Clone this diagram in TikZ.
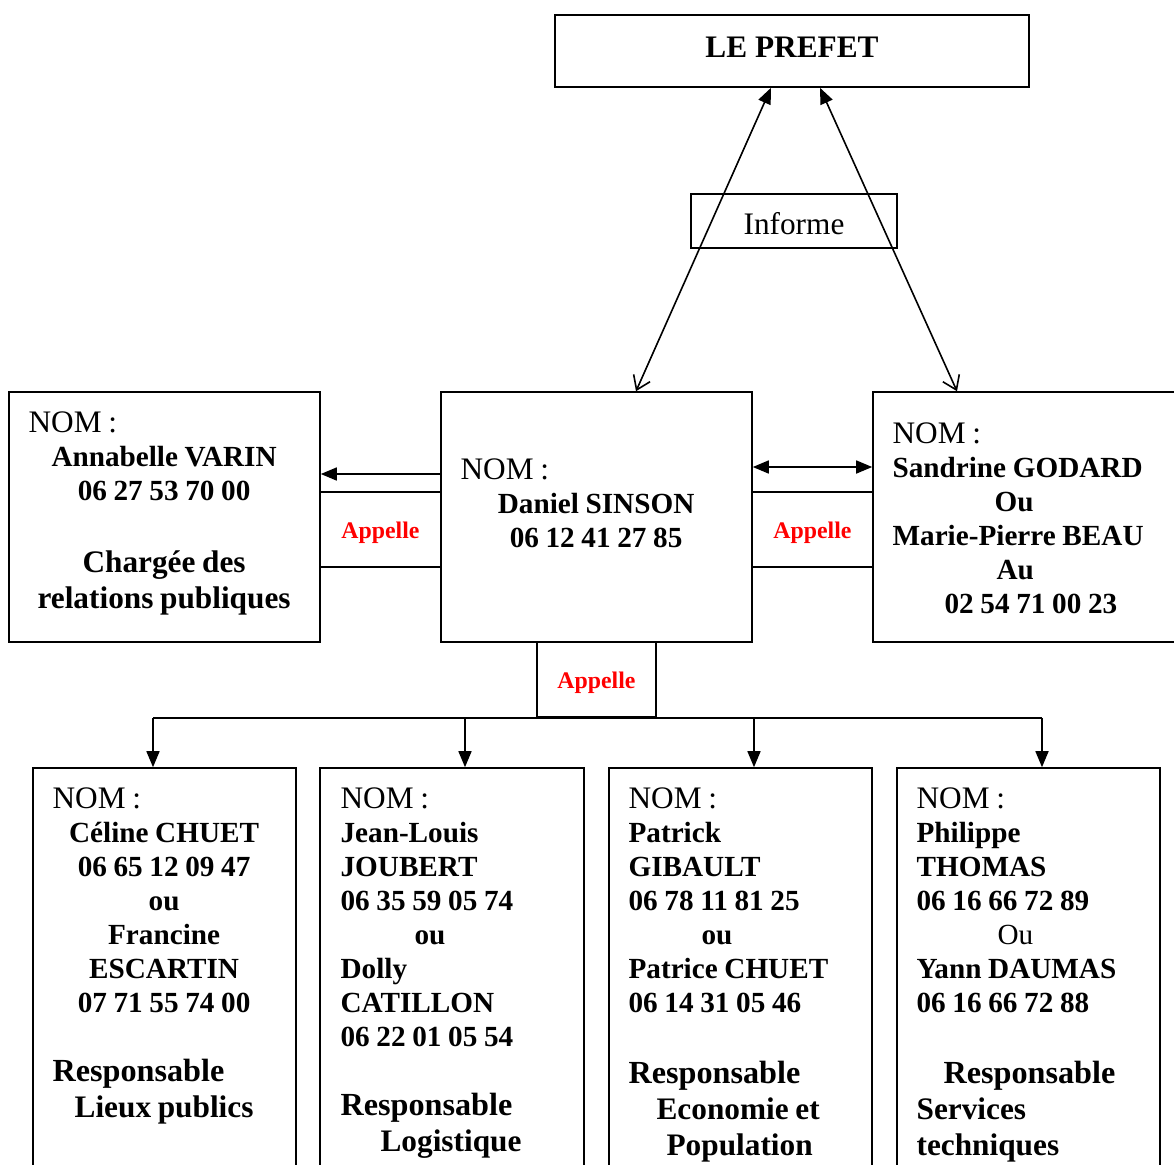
\documentclass[tikz,border=0pt]{standalone}
\usepackage{fontspec}
\setmainfont{Liberation Serif}
\usetikzlibrary{arrows.meta, positioning}
\setlength\parindent{0pt}

\newcommand\fdouze{\fontsize{11.9pt}{14pt}\selectfont}
\newcommand\fquatorze{\fontsize{14.6pt}{17pt}\selectfont}
\newcommand\fquinze{\fontsize{15.65pt}{18pt}\selectfont}
\newcommand\fseize{\fontsize{16.1pt}{18.3pt}\selectfont}

\tikzset{
  boite/.style={draw, line width=0.8pt, inner sep=0pt},
  appel/.style={boite, minimum width=60.5pt, minimum height=37.5pt, text=red, font=\fdouze\bfseries,
    text height=12.1pt, text depth=2.7pt},
  texte/.style={anchor=north west, inner sep=0pt, align=left, text width=#1},
  trait/.style={line width=0.8pt},
  fleche/.style={trait, -{Triangle[length=8pt,width=6.5pt]}},
  fleches/.style={trait, {Triangle[length=8pt,width=6.5pt]}-{Triangle[length=8pt,width=6.5pt]}},
  informe/.style={trait, {Straight Barb[length=6.5pt,width=9pt]}-{Triangle[length=8pt,width=6.5pt]}}
}

\begin{document}
\begin{tikzpicture}[x=0.5pt, y=-0.5pt]
\useasboundingbox (0,0) rectangle (1174,1164);
\clip (0,0) rectangle (1174,1164);

% Le prefet
\node[boite, minimum width=237pt, minimum height=36pt, font=\fquinze\bfseries,
  text height=10.4pt, text depth=4pt] (prefet) at (792,51) {LE PREFET};
\node[boite, minimum width=103pt, minimum height=27pt, font=\fquinze,
  text height=13.7pt, text depth=0pt] (info) at (794,221) {Informe};

% Premier niveau
\node[boite, minimum width=155.5pt, minimum height=125pt] (varin) at (164.5,517) {};
\node[boite, minimum width=155.5pt, minimum height=125pt] (sinson) at (596.5,517) {};
\node[boite, minimum width=153.5pt, minimum height=125pt] (godard) at (1026.5,517) {};
\node[appel] (appG) at (380.5,529.5) {Appelle};
\node[appel] (appD) at (812.5,529.5) {Appelle};
\node[appel, minimum width=59.5pt] (appB) at (596.5,679.5) {Appelle};

\node[texte=135.5pt] (varinT) at ([shift={(10pt,-10pt)}]varin.north west) {%
  {\fquinze NOM :\par}
  {\centering\fquatorze\bfseries Annabelle VARIN\\06 27 53 70 00\par}
  \vspace{18pt}
  {\centering\fquinze\bfseries Chargée des\\relations publiques\par}};
\node[texte=135.5pt] (sinsonT) at ([shift={(10pt,-33.8pt)}]sinson.north west) {%
  {\fquinze NOM :\par}
  {\centering\fquatorze\bfseries Daniel SINSON\\06 12 41 27 85\par}};
\node[texte=140pt] (godardT) at ([shift={(10pt,-15.8pt)}]godard.north west) {%
  {\fquinze NOM :\par}
  {\fquatorze\bfseries Sandrine GODARD\\\hspace*{51pt}Ou\\Marie-Pierre BEAU\\\hspace*{52pt}Au\\\hspace*{26pt}02 54 71 00 23\par}};

% Second niveau
\node[boite, minimum width=131.5pt, minimum height=206pt] (chuet) at (164.5,974) {};
\node[boite, minimum width=132pt, minimum height=206pt] (joubert) at (452,974) {};
\node[boite, minimum width=131.5pt, minimum height=206pt] (gibault) at (740.5,974) {};
\node[boite, minimum width=131.5pt, minimum height=206pt] (thomas) at (1028.5,974) {};

\node[texte=111.5pt] (chuetT) at ([shift={(10pt,-10pt)}]chuet.north west) {%
  {\fquinze NOM :\par}
  {\centering\fquatorze\bfseries Céline CHUET\\06 65 12 09 47\\ou\\Francine\\ESCARTIN\\07 71 55 74 00\par}
  \vspace{16.5pt}
  {\fseize\bfseries Responsable\par}
  {\centering\fquinze\bfseries Lieux publics\par}};
\node[texte=111.5pt] (joubertT) at ([shift={(10.5pt,-10pt)}]joubert.north west) {%
  {\fquinze NOM :\par}
  {\fquatorze\bfseries Jean-Louis\\JOUBERT\\06 35 59 05 74\\\hspace*{37pt}ou\\Dolly\\CATILLON\\06 22 01 05 54\par}
  \vspace{16.5pt}
  {\fseize\bfseries Responsable\par}
  {\fquinze\bfseries\hspace*{20pt}Logistique\par}};
\node[texte=111.5pt] (gibaultT) at ([shift={(10pt,-10pt)}]gibault.north west) {%
  {\fquinze NOM :\par}
  {\fquatorze\bfseries Patrick\\GIBAULT\\06 78 11 81 25\\\hspace*{36.5pt}ou\\Patrice CHUET\\06 14 31 05 46\par}
  \vspace{17.5pt}
  {\fseize\bfseries Responsable\par}
  {\fquinze\bfseries\hspace*{14pt}Economie et\\\hspace*{19pt}Population\par}};
\node[texte=111.5pt] (thomasT) at ([shift={(10pt,-10pt)}]thomas.north west) {%
  {\fquinze NOM :\par}
  {\fquatorze\bfseries Philippe\\THOMAS\\06 16 66 72 89\\\hspace*{40.5pt}{\mdseries Ou}\\Yann DAUMAS\\06 16 66 72 88\par}
  \vspace{17.5pt}
  {\fseize\bfseries\hspace*{13.5pt}Responsable\par}
  {\fquinze\bfseries Services\\techniques\par}};

% Liaisons
\draw[informe] ([xshift=19.75pt]sinson.north) -- ([xshift=-10.5pt]prefet.south);
\draw[informe] ([xshift=-34.75pt]godard.north) -- ([xshift=14pt]prefet.south);
\draw[fleche] ([yshift=21.5pt]sinson.west) -- ([yshift=21.5pt]varin.east);
\draw[fleches] ([yshift=25pt]sinson.east) -- ([yshift=25pt]godard.west);

\foreach \n/\dx in {chuet/-5.75pt, joubert/6.5pt, gibault/6.75pt, thomas/6.75pt}
  \coordinate (\n-h) at ([xshift=\dx]\n.north);
\draw[trait] (chuet-h |- appB.south) -- (thomas-h |- appB.south);
\foreach \n in {chuet, joubert, gibault, thomas}
  \draw[fleche] (\n-h |- appB.south) -- (\n-h);
\end{tikzpicture}
\end{document}
